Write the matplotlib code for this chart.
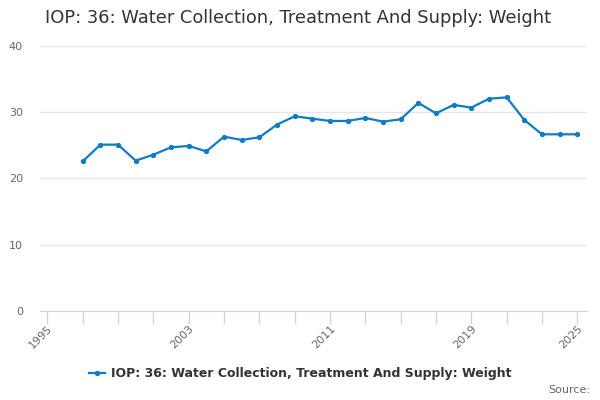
import matplotlib
matplotlib.use("Agg")
import matplotlib.pyplot as plt
from matplotlib.lines import Line2D

years = list(range(1997, 2026))
values = [22.56, 25.08, 25.08, 22.67, 23.57, 24.68, 24.89, 24.07, 26.29, 25.79,
          26.19, 28.1, 29.35, 29.0, 28.65, 28.65, 29.1, 28.55, 28.9, 31.37,
          29.8, 31.07, 30.66, 32.0, 32.2, 28.8, 26.64, 26.64, 26.64]
series_name = "IOP: 36: Water Collection, Treatment And Supply: Weight"
title = "IOP: 36: Water Collection, Treatment And Supply: Weight"
minor_ticks = list(range(1995, 2026, 2))
label_ticks = [1995, 2003, 2011, 2019, 2025]
y_ticks = [0, 10, 20, 30, 40]

color = "#0f7cc4"

fig = plt.figure(figsize=(6, 4), dpi=100)
ax = fig.add_axes([0.066, 0.222, 0.9115, 0.664])

ax.plot(years, values, color=color, lw=1.6, marker="o", ms=2.8, zorder=3)

ax.set_xlim(1994.56, 2025.52)
ax.set_ylim(0, 40)
ax.set_yticks(y_ticks)
ax.set_yticklabels([str(v) for v in y_ticks])
ax.yaxis.grid(True, color="#e6e6e6", lw=1)
ax.set_axisbelow(True)
ax.tick_params(axis="y", length=0, labelsize=8, labelcolor="#666666", pad=12)

ax.set_xticks(minor_ticks, minor=True)
ax.set_xticks(label_ticks)
ax.set_xticklabels([str(v) for v in label_ticks], rotation=45, ha="right",
                   rotation_mode="anchor")
ax.tick_params(axis="x", which="both", length=9, color="#ccd6eb", width=1,
               labelsize=8, labelcolor="#666666", pad=0)

for s in ["top", "right", "left"]:
    ax.spines[s].set_visible(False)
ax.spines["bottom"].set_color("#ccd6eb")

fig.text(0.496, 0.955, title, ha="center", va="center", fontsize=12.85, color="#333333")

handle = Line2D([], [], color=color, lw=1.6, marker="o", ms=2.8)
fig.legend([handle], [series_name], loc="center", bbox_to_anchor=(0.5, 0.066),
           frameon=False, prop={"weight": "bold", "size": 9}, handlelength=1.3,
           handletextpad=0.5, labelcolor="#333333")

fig.text(0.983, 0.025, "Source:", ha="right", va="center", fontsize=8, color="#666666")

fig.savefig("out.png", dpi=100)
